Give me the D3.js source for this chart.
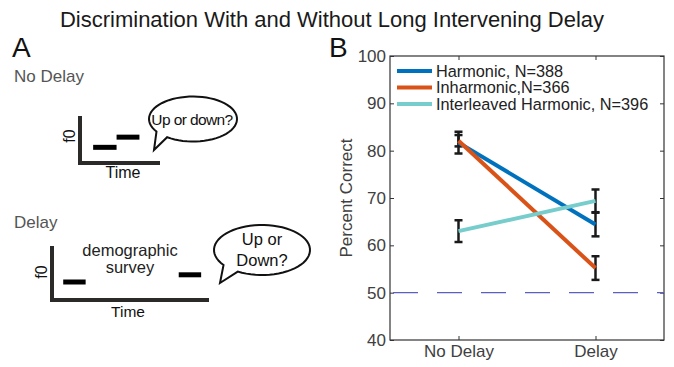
<!DOCTYPE html>
<html>
<head>
<meta charset="utf-8">
<script src="https://cdn.jsdelivr.net/npm/d3@7"></script>
<style>
  body { margin: 0; background: #fff; }
  svg { font-family: "Liberation Sans", Arial, sans-serif; }
</style>
</head>
<body>
<svg id="chart" width="674" height="367"></svg>
<script>
// ---- data ----
var conditions = ["No Delay", "Delay"];
var seriesNames = ["Harmonic, N=388", "Inharmonic,N=366", "Interleaved Harmonic, N=396"];
var seriesColors = ["#0072bd", "#d95319", "#77cccc"];
var harmonicMean = [81.7, 64.4];
var harmonicErr = [2.3, 2.5];
var inharmonicMean = [82.1, 55.2];
var inharmonicErr = [1.2, 2.5];
var interleavedMean = [63.0, 69.4];
var interleavedErr = [2.3, 2.4];
var yTicks = [40, 50, 60, 70, 80, 90, 100];
var chanceLevel = 50;

// panel A illustrations (time / f0 in arbitrary units)
var noDelayTones = [{ t0: 1.15, t1: 3.2, f: 1 }, { t0: 3.2, t1: 5.2, f: 1.65 }];
var delayTones = [{ t0: 1, t1: 3, f: 1 }, { t0: 11.3, t1: 13.3, f: 1.4 }];

var svg = d3.select("#chart");

// title
svg.append("text")
  .attr("x", 332).attr("y", 27)
  .attr("text-anchor", "middle")
  .attr("font-size", 22)
  .attr("fill", "#1a1a1a")
  .text("Discrimination With and Without Long Intervening Delay");

// panel letters
svg.append("text").attr("x", 12).attr("y", 57).attr("font-size", 28).attr("fill", "#111").text("A");
svg.append("text").attr("x", 329).attr("y", 57).attr("font-size", 28).attr("fill", "#111").text("B");

// ================= Panel B =================
var plot = { left: 390, right: 664, top: 56, bottom: 340 };
var x = d3.scaleLinear().domain([0.5, 2.5]).range([plot.left, plot.right]);
var y = d3.scaleLinear().domain([40, 100]).range([plot.bottom, plot.top]);
var tickFont = 17;

var gB = svg.append("g");

// frame
gB.append("rect")
  .attr("x", plot.left).attr("y", plot.top)
  .attr("width", plot.right - plot.left).attr("height", plot.bottom - plot.top)
  .attr("fill", "none").attr("stroke", "#333").attr("stroke-width", 1.2);

// left axis with inward ticks
var yAxis = gB.append("g")
  .attr("transform", "translate(" + plot.left + ",0)")
  .call(d3.axisLeft(y).tickValues(yTicks).tickSizeInner(-4).tickSizeOuter(0).tickPadding(4));
yAxis.select(".domain").remove();
yAxis.selectAll("line").attr("stroke", "#333");
yAxis.selectAll("text").attr("font-size", tickFont).attr("fill", "#404040")
  .attr("font-family", "Liberation Sans, Arial, sans-serif");

var yAxisR = gB.append("g")
  .attr("transform", "translate(" + plot.right + ",0)")
  .call(d3.axisRight(y).tickValues(yTicks).tickSizeInner(-4).tickSizeOuter(0).tickFormat(""));
yAxisR.select(".domain").remove();
yAxisR.selectAll("line").attr("stroke", "#333");

var xAxis = gB.append("g")
  .attr("transform", "translate(0," + plot.bottom + ")")
  .call(d3.axisBottom(x).tickValues([1, 2]).tickFormat(function (d) { return conditions[d - 1]; })
    .tickSizeInner(-4).tickSizeOuter(0).tickPadding(5));
xAxis.select(".domain").remove();
xAxis.selectAll("line").attr("stroke", "#333");
xAxis.selectAll("text").attr("font-size", tickFont).attr("fill", "#404040")
  .attr("font-family", "Liberation Sans, Arial, sans-serif");

var xAxisT = gB.append("g")
  .attr("transform", "translate(0," + plot.top + ")")
  .call(d3.axisTop(x).tickValues([1, 2]).tickFormat("").tickSizeInner(-4).tickSizeOuter(0));
xAxisT.select(".domain").remove();
xAxisT.selectAll("line").attr("stroke", "#333");

// y label
gB.append("text")
  .attr("transform", "translate(352," + y(70) + ") rotate(-90)")
  .attr("text-anchor", "middle")
  .attr("font-size", tickFont).attr("fill", "#404040")
  .text("Percent Correct");

// chance line
gB.append("line")
  .attr("x1", plot.left).attr("x2", plot.right)
  .attr("y1", y(chanceLevel)).attr("y2", y(chanceLevel))
  .attr("stroke", "#5b60c0").attr("stroke-width", 1.2)
  .attr("stroke-dasharray", "25,19").attr("stroke-dashoffset", -3);

var series = [
  { name: seriesNames[0], color: seriesColors[0], mean: harmonicMean, err: harmonicErr },
  { name: seriesNames[1], color: seriesColors[1], mean: inharmonicMean, err: inharmonicErr },
  { name: seriesNames[2], color: seriesColors[2], mean: interleavedMean, err: interleavedErr }
];

var line = d3.line()
  .x(function (d, i) { return x(i + 1); })
  .y(function (d) { return y(d); });

// error bars
series.forEach(function (s) {
  var eb = gB.append("g");
  s.mean.forEach(function (m, i) {
    var cx = x(i + 1);
    eb.append("line")
      .attr("x1", cx).attr("x2", cx)
      .attr("y1", y(m - s.err[i])).attr("y2", y(m + s.err[i]))
      .attr("stroke", "#1a1a1a").attr("stroke-width", 2.5);
    [m - s.err[i], m + s.err[i]].forEach(function (v) {
      eb.append("line")
        .attr("x1", cx - 4).attr("x2", cx + 4)
        .attr("y1", y(v)).attr("y2", y(v))
        .attr("stroke", "#1a1a1a").attr("stroke-width", 2.5);
    });
  });
});

series.forEach(function (s) {
  gB.append("path")
    .datum(s.mean)
    .attr("d", line)
    .attr("fill", "none")
    .attr("stroke", s.color)
    .attr("stroke-width", 4);
});

// legend
var legend = gB.append("g").attr("transform", "translate(397,71)");
series.forEach(function (s, i) {
  var row = legend.append("g").attr("transform", "translate(0," + (i * 16.5) + ")");
  row.append("line").attr("x1", 0).attr("x2", 35).attr("y1", 0).attr("y2", 0)
    .attr("stroke", s.color).attr("stroke-width", 4);
  row.append("text").attr("x", 39).attr("y", 5.5)
    .attr("font-size", 16.3).attr("fill", "#222").text(s.name);
});

// ================= Panel A =================
var gA = svg.append("g");
var grey = "#555";

gA.append("text").attr("x", 14).attr("y", 82).attr("font-size", 17).attr("fill", grey).text("No Delay");
gA.append("text").attr("x", 14).attr("y", 228).attr("font-size", 17).attr("fill", grey).text("Delay");

function drawBubble(g, cx, cy, rx, ry, tipX, tipY, baseA, baseB) {
  // ellipse outline with a tail toward (tipX, tipY)
  var pts = [];
  for (var k = 0; k <= 60; k++) {
    var a = baseB + (baseA + 2 * Math.PI - baseB) * k / 60;
    pts.push([cx + rx * Math.cos(a), cy + ry * Math.sin(a)]);
  }
  pts.push([tipX, tipY]);
  g.append("path")
    .attr("d", d3.line()(pts) + "Z")
    .attr("fill", "#fff").attr("stroke", "#111").attr("stroke-width", 2);
}

function drawDiagram(parent, opts) {
  var g = parent.append("g");
  var tx = d3.scaleLinear().domain(opts.tDomain).range(opts.xRange);
  var fy = d3.scaleLinear().domain([0, 3]).range(opts.yRange);
  g.append("line").attr("x1", tx(0)).attr("x2", tx(0))
    .attr("y1", fy(3)).attr("y2", fy(0) + 2)
    .attr("stroke", "#2b2a28").attr("stroke-width", 4);
  g.append("line").attr("x1", tx(0)).attr("x2", tx(opts.tDomain[1]))
    .attr("y1", fy(0)).attr("y2", fy(0))
    .attr("stroke", "#2b2a28").attr("stroke-width", 4);
  g.selectAll("line.tone").data(opts.tones).enter().append("line")
    .attr("class", "tone")
    .attr("x1", function (d) { return tx(d.t0); })
    .attr("x2", function (d) { return tx(d.t1); })
    .attr("y1", function (d) { return fy(d.f); })
    .attr("y2", function (d) { return fy(d.f); })
    .attr("stroke", "#000").attr("stroke-width", 5);
  g.append("text")
    .attr("transform", "translate(" + (tx(0) - 5) + "," + opts.f0Y + ") rotate(-90)")
    .attr("text-anchor", "middle").attr("font-size", 16).attr("fill", "#111").text("f0");
  g.append("text")
    .attr("x", opts.timeX).attr("y", opts.timeY)
    .attr("text-anchor", "middle").attr("font-size", opts.timeSize).attr("fill", "#111")
    .attr("font-family", opts.timeFont).text("Time");
}

drawDiagram(gA, {
  tDomain: [0, 7], xRange: [80, 160], yRange: [163, 116],
  tones: noDelayTones,
  f0Y: 136, timeX: 123, timeY: 178, timeSize: 16, timeFont: "Liberation Sans Narrow, Arial Narrow, sans-serif"
});
drawBubble(gA, 193, 119, 44, 22.5, 154, 150, 2.2, 2.55);
gA.append("text").attr("x", 192).attr("y", 124.5).attr("text-anchor", "middle")
  .attr("font-size", 15.5).attr("font-family", "Liberation Sans Narrow, Arial Narrow, sans-serif")
  .attr("letter-spacing", -0.6).attr("fill", "#111").text("Up or down?");

drawDiagram(gA, {
  tDomain: [0, 14], xRange: [52, 209], yRange: [300, 246],
  tones: delayTones,
  f0Y: 272, timeX: 128, timeY: 317, timeSize: 15.5, timeFont: "Liberation Sans, Arial, sans-serif"
});
gA.append("text").attr("x", 130).attr("y", 256).attr("text-anchor", "middle")
  .attr("font-size", 16.5).attr("fill", "#222").text("demographic");
gA.append("text").attr("x", 130).attr("y", 273).attr("text-anchor", "middle")
  .attr("font-size", 16.5).attr("fill", "#222").text("survey");
drawBubble(gA, 262, 250, 48, 25, 220, 283, 2.1, 2.5);
gA.append("text").attr("x", 262).attr("y", 244.5).attr("text-anchor", "middle")
  .attr("font-size", 16.5).attr("fill", "#111").text("Up or");
gA.append("text").attr("x", 262).attr("y", 266).attr("text-anchor", "middle")
  .attr("font-size", 16.5).attr("fill", "#111").text("Down?");
</script>
</body>
</html>
